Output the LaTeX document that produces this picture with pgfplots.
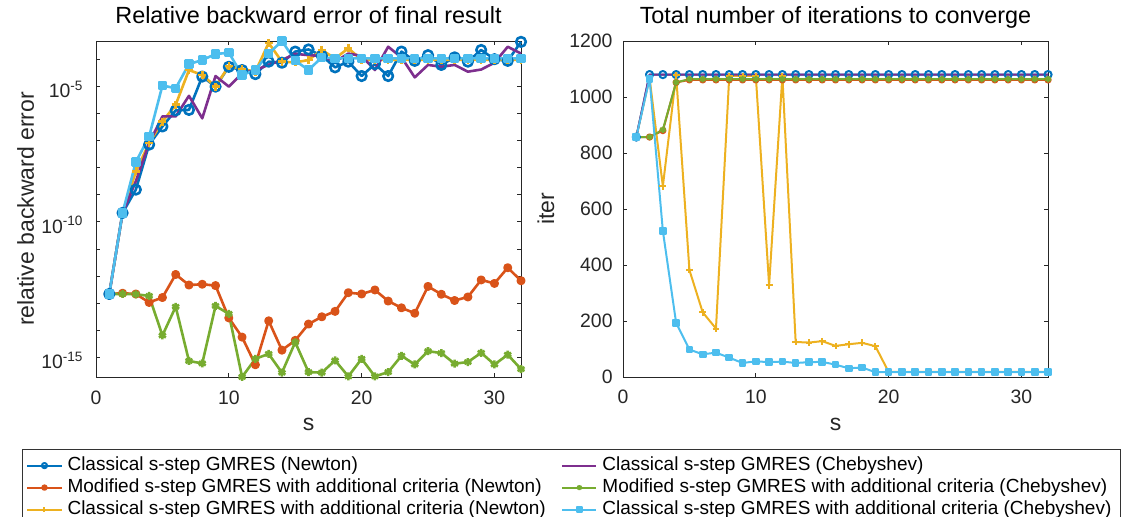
\documentclass[border=0pt]{standalone}
\usepackage{fontspec}
\setmainfont{Liberation Sans}
\usepackage{pgfplots}
\pgfplotsset{compat=1.18}

% MATLAB default colour order
\definecolor{c1}{RGB}{0,114,189}
\definecolor{c2}{RGB}{217,83,25}
\definecolor{c3}{RGB}{237,177,32}
\definecolor{c4}{RGB}{126,47,142}
\definecolor{c5}{RGB}{119,172,48}
\definecolor{c6}{RGB}{77,190,238}

\pgfplotsset{
  mstyle/.style={
    scale only axis, width=212.5pt, height=168pt, anchor=south west,
    xmin=0, xmax=32, xtick={0,10,20,30},
    tick align=inside, tick pos=both, major tick length=2.2pt,
    axis line style={black!85, line width=0.45pt},
    every tick/.style={black!85, line width=0.45pt},
    tick label style={font=\fontsize{9.7}{11}\selectfont, text=black!85},
    /pgf/number format/assume math mode=true,
    /pgf/number format/1000 sep={},
    xticklabel style={anchor=base, yshift=-13.5pt},
    label style={font=\fontsize{11.5}{13}\selectfont, text=black!85},
    xlabel style={at={(axis description cs:0.5,0)}, anchor=base, yshift=-27pt},
    title style={font=\fontsize{11.7}{13}\selectfont, at={(axis description cs:0.5,1)}, anchor=base, yshift=2.6pt},
    every axis plot/.append style={line join=round},
    clip=false,
  }
}

\begin{document}
\begin{tikzpicture}

% ---------------- left: backward error ----------------
\begin{axis}[mstyle, at={(48pt,70pt)},
  ymode=log, ymin=1.9e-16, ymax=4.7e-4, yminorticks=false,
  ytick={1e-15,1e-14,1e-13,1e-12,1e-11,1e-10,1e-9,1e-8,1e-7,1e-6,1e-5,1e-4},
  yticklabels={{10\textsuperscript{-15}},{},{},{},{},{10\textsuperscript{-10}},{},{},{},{},{10\textsuperscript{-5}},{}},
  yticklabel style={xshift=-2.7pt, yshift=-1.5pt},
  title={Relative backward error of final result},
  xlabel={s}, ylabel={relative backward error},
  ylabel style={at={([xshift=-31pt]axis description cs:0,0.5)}, anchor=base},
  legend columns=2, legend cell align=left,
  legend style={at={(axis description cs:-0.1741,-0.2131)}, anchor=north west,
    draw=black!80, line width=0.4pt, fill=white, inner xsep=2pt, inner ysep=3.3pt,
    row sep=1pt, column sep=0pt, font=\fontsize{9.5}{11}\selectfont,
    nodes={inner sep=0.5pt, text height=7pt, text depth=2pt}},
]
\addplot[forget plot, c1, line width=1.3pt, mark=o, mark size=2.4pt] coordinates {
(1,2.19e-13)(2,2.14e-10)(3,1.55e-9)(4,7.08e-8)(5,3.31e-7)(6,1.29e-6)(7,1.35e-6)(8,2.29e-5)
(9,9.77e-6)(10,5.25e-5)(11,3.98e-5)(12,2.82e-5)(13,8.13e-5)(14,7.41e-5)(15,1.91e-4)(16,2.29e-4)
(17,1.35e-4)(18,5.01e-5)(19,8.13e-5)(20,2.40e-5)(21,6.61e-5)(22,2.40e-5)(23,1.91e-4)(24,8.71e-5)
(25,1.41e-4)(26,6.17e-5)(27,1.17e-4)(28,8.13e-5)(29,2.19e-4)(30,1.00e-4)(31,8.71e-5)(32,4.37e-4)};
\addplot[forget plot, c2, line width=1.3pt, mark=*, mark size=1.6pt] coordinates {
(1,2.19e-13)(2,2.34e-13)(3,2.19e-13)(4,1.07e-13)(5,1.62e-13)(6,1.15e-12)(7,4.68e-13)(8,5.01e-13)
(9,4.47e-13)(10,2.88e-14)(11,5.62e-15)(12,5.37e-16)(13,2.24e-14)(14,1.86e-15)(15,4.27e-15)(16,1.70e-14)
(17,3.16e-14)(18,5.01e-14)(19,2.45e-13)(20,2.19e-13)(21,3.09e-13)(22,1.20e-13)(23,6.76e-14)(24,4.27e-14)
(25,4.17e-13)(26,2.14e-13)(27,1.26e-13)(28,1.70e-13)(29,7.24e-13)(30,5.37e-13)(31,2.04e-12)(32,6.76e-13)};
\addplot[forget plot, c3, line width=1.3pt, mark=+, mark size=2pt] coordinates {
(1,2.19e-13)(2,2.14e-10)(3,7.24e-9)(4,8.13e-8)(5,5.01e-7)(6,2.09e-6)(7,3.98e-5)(8,2.63e-5)
(9,9.77e-6)(10,5.62e-5)(11,4.37e-5)(12,3.47e-5)(13,3.98e-4)(14,8.13e-5)(15,7.59e-5)(16,9.33e-5)
(17,2.19e-4)(18,1.07e-4)(19,2.51e-4)(20,9.55e-5)(21,9.55e-5)(22,9.55e-5)(23,9.55e-5)(24,9.55e-5)
(25,9.55e-5)(26,9.55e-5)(27,9.55e-5)(28,9.55e-5)(29,9.55e-5)(30,9.55e-5)(31,9.55e-5)(32,9.55e-5)};
\addplot[forget plot, c4, line width=1.3pt] coordinates {
(1,2.19e-13)(2,2.14e-10)(3,3.16e-9)(4,8.13e-8)(5,7.76e-7)(6,7.76e-7)(7,4.47e-6)(8,6.61e-7)
(9,2.40e-5)(10,9.77e-6)(11,3.02e-5)(12,3.98e-5)(13,6.17e-5)(14,9.33e-5)(15,1.58e-4)(16,1.41e-4)
(17,1.32e-4)(18,8.13e-5)(19,1.62e-4)(20,1.32e-4)(21,3.98e-5)(22,2.88e-4)(23,1.17e-4)(24,2.14e-5)
(25,6.17e-5)(26,5.25e-5)(27,6.17e-5)(28,3.47e-5)(29,4.17e-5)(30,7.41e-5)(31,2.88e-4)(32,1.62e-4)};
\addplot[forget plot, c5, line width=1.3pt, mark=asterisk, mark size=2pt] coordinates {
(1,2.19e-13)(2,2.19e-13)(3,2.14e-13)(4,1.86e-13)(5,6.46e-15)(6,7.41e-14)(7,7.41e-16)(8,6.03e-16)
(9,7.94e-14)(10,4.07e-14)(11,1.91e-16)(12,8.91e-16)(13,1.35e-15)(14,2.75e-16)(15,3.63e-15)(16,2.88e-16)
(17,2.75e-16)(18,7.76e-16)(19,2.00e-16)(20,8.91e-16)(21,2.00e-16)(22,2.88e-16)(23,1.15e-15)(24,5.50e-16)
(25,1.70e-15)(26,1.45e-15)(27,5.89e-16)(28,6.76e-16)(29,1.48e-15)(30,5.50e-16)(31,1.26e-15)(32,3.72e-16)};
\addplot[forget plot, c6, line width=1.3pt, mark=square*, mark size=1.7pt] coordinates {
(1,2.19e-13)(2,2.14e-10)(3,1.62e-8)(4,1.41e-7)(5,1.07e-5)(6,8.51e-6)(7,6.61e-5)(8,9.33e-5)
(9,1.55e-4)(10,1.74e-4)(11,2.63e-5)(12,3.98e-5)(13,1.62e-4)(14,4.68e-4)(15,8.91e-5)(16,3.98e-5)
(17,1.17e-4)(18,1.07e-4)(19,1.07e-4)(20,1.07e-4)(21,1.07e-4)(22,1.07e-4)(23,1.07e-4)(24,1.07e-4)
(25,1.07e-4)(26,1.07e-4)(27,1.07e-4)(28,1.07e-4)(29,1.07e-4)(30,1.07e-4)(31,1.07e-4)(32,1.07e-4)};

\addlegendimage{c1, line width=1pt, mark=o, mark size=1.3pt}
\addlegendentry{\makebox[248.4pt][l]{\hspace{2pt}Classical s-step GMRES (Newton)}}
\addlegendimage{c4, line width=1pt}
\addlegendentry{\makebox[258.6pt][l]{\hspace{2pt}Classical s-step GMRES (Chebyshev)}}
\addlegendimage{c2, line width=1pt, mark=*, mark size=1.1pt}
\addlegendentry{\makebox[248.4pt][l]{\hspace{2pt}Modified s-step GMRES with additional criteria (Newton)}}
\addlegendimage{c5, line width=1pt, mark=asterisk, mark size=1.3pt}
\addlegendentry{\makebox[258.6pt][l]{\hspace{2pt}Modified s-step GMRES with additional criteria (Chebyshev)}}
\addlegendimage{c3, line width=1pt, mark=+, mark size=1.3pt}
\addlegendentry{\makebox[248.4pt][l]{\hspace{2pt}Classical s-step GMRES with additional criteria (Newton)}}
\addlegendimage{c6, line width=1pt, mark=square*, mark size=1.1pt}
\addlegendentry{\makebox[258.6pt][l]{\hspace{2pt}Classical s-step GMRES with additional criteria (Chebyshev)}}
\end{axis}

% ---------------- right: iterations ----------------
\begin{axis}[mstyle, at={(311.5pt,70pt)},
  ymin=0, ymax=1200, ytick={0,200,400,600,800,1000,1200},
  yticklabel style={xshift=-1.7pt},
  title={Total number of iterations to converge},
  xlabel={s}, ylabel={iter},
  ylabel style={at={([xshift=-34.5pt]axis description cs:0,0.5)}, anchor=base},
]
\addplot[c1, line width=1.0pt, mark=o, mark size=1.8pt] coordinates {
(1,857)(2,1080)(3,1080)(4,1080)(5,1080)(6,1080)(7,1080)(8,1080)(9,1080)(10,1080)(11,1080)
(12,1080)(13,1080)(14,1080)(15,1080)(16,1080)(17,1080)(18,1080)(19,1080)(20,1080)(21,1080)
(22,1080)(23,1080)(24,1080)(25,1080)(26,1080)(27,1080)(28,1080)(29,1080)(30,1080)(31,1080)(32,1080)};
\addplot[c2, line width=1.0pt, mark=*, mark size=1.3pt] coordinates {
(1,857)(2,857)(3,880)(4,1052)(5,1061)(6,1061)(7,1061)(8,1061)(9,1061)(10,1061)(11,1061)
(12,1061)(13,1061)(14,1061)(15,1061)(16,1061)(17,1061)(18,1061)(19,1061)(20,1061)(21,1061)
(22,1061)(23,1061)(24,1061)(25,1061)(26,1061)(27,1061)(28,1061)(29,1061)(30,1061)(31,1061)(32,1061)};
\addplot[c3, line width=1.0pt, mark=+, mark size=1.7pt] coordinates {
(1,857)(2,1068)(3,681)(4,1078)(5,382)(6,231)(7,173)(8,1075)(9,1075)(10,1075)(11,328)
(12,1075)(13,125)(14,123)(15,128)(16,111)(17,117)(18,122)(19,110)(20,18)(21,18)
(22,18)(23,18)(24,18)(25,18)(26,18)(27,18)(28,18)(29,18)(30,18)(31,18)(32,18)};
\addplot[c4, line width=1.0pt] coordinates {
(1,857)(2,1080)(3,1080)(4,1080)(5,1080)(6,1080)(7,1080)(8,1080)(9,1080)(10,1080)(11,1080)
(12,1080)(13,1080)(14,1080)(15,1080)(16,1080)(17,1080)(18,1080)(19,1080)(20,1080)(21,1080)
(22,1080)(23,1080)(24,1080)(25,1080)(26,1080)(27,1080)(28,1080)(29,1080)(30,1080)(31,1080)(32,1080)};
\addplot[c5, line width=1.0pt, mark=asterisk, mark size=1.6pt] coordinates {
(1,857)(2,857)(3,883)(4,1052)(5,1064)(6,1064)(7,1064)(8,1064)(9,1064)(10,1064)(11,1064)
(12,1064)(13,1064)(14,1064)(15,1064)(16,1064)(17,1064)(18,1064)(19,1064)(20,1064)(21,1064)
(22,1064)(23,1064)(24,1064)(25,1064)(26,1064)(27,1064)(28,1064)(29,1064)(30,1064)(31,1064)(32,1064)};
\addplot[c6, line width=1.0pt, mark=square*, mark size=1.4pt] coordinates {
(1,857)(2,1065)(3,522)(4,193)(5,98)(6,81)(7,87)(8,69)(9,50)(10,56)(11,53)
(12,55)(13,50)(14,53)(15,54)(16,44)(17,31)(18,34)(19,17)(20,17)(21,17)
(22,17)(23,17)(24,17)(25,17)(26,17)(27,17)(28,17)(29,17)(30,17)(31,17)(32,17)};
\end{axis}

\pgfresetboundingbox
\path[use as bounding box] (0,0) rectangle (561pt,258.5pt);
\end{tikzpicture}
\end{document}
